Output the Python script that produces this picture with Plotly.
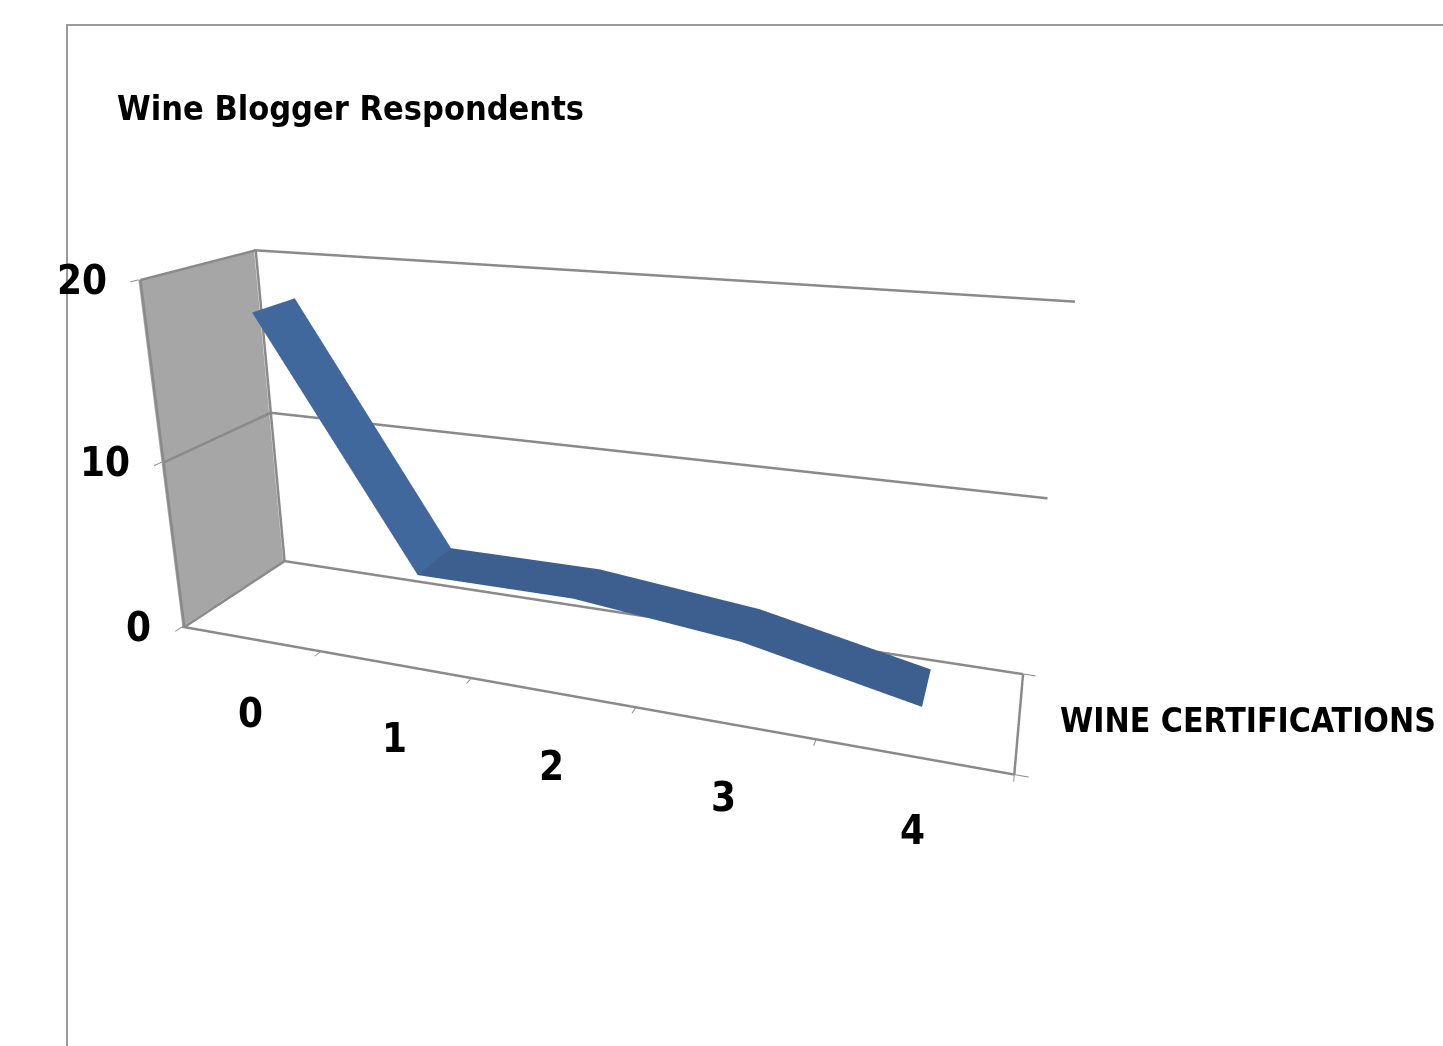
import math
import plotly.graph_objects as go

# ---- data -------------------------------------------------------------
certifications = [0, 1, 2, 3, 4]
category_labels = ["0", "1", "2", "3", "4"]
respondents = [18, 4, 4, 3, 1]
value_ticks = [0, 10, 20]
value_labels = ["0", "10", "20"]

title_text = "Wine Blogger Respondents"
x_title_text = "WINE CERTIFICATIONS"

# ---- axis extents -----------------------------------------------------
x_range = [-0.5, 4.5]
depth_range = [0.0, 1.0]
ribbon_depth = [0.3, 0.7]
z_range = [0, 20]
category_edges = [c - 0.5 for c in certifications] + [certifications[-1] + 0.5]

FONT = "Liberation Sans Narrow, DejaVu Sans Condensed, Liberation Sans, sans-serif"
GRID = "#8a8a8a"
RIBBON_LIGHT = "#41689c"
RIBBON_DARK = "#3c5f90"

# ---- ribbon mesh: a strip of constant depth following the series -------
xs, ys, zs = [], [], []
for c, v in zip(certifications, respondents):
    xs += [c, c]
    ys += [ribbon_depth[0], ribbon_depth[1]]
    zs += [v, v]

tri_i, tri_j, tri_k, face_colors = [], [], [], []
for s in range(len(certifications) - 1):
    a = 2 * s
    tri_i += [a, a + 1]
    tri_j += [a + 1, a + 3]
    tri_k += [a + 2, a + 2]
    col = RIBBON_LIGHT if respondents[s + 1] < respondents[s] - 5 else RIBBON_DARK
    face_colors += [col, col]

ribbon = go.Mesh3d(
    x=xs, y=ys, z=zs,
    i=tri_i, j=tri_j, k=tri_k,
    facecolor=face_colors,
    flatshading=True,
    lighting=dict(ambient=1.0, diffuse=0.0, specular=0.0, roughness=1.0, fresnel=0.0),
    hoverinfo="skip",
    showscale=False,
)

# ---- wall frame: gridlines on back and side walls plus the floor edges --
# lines lying on a wall are nudged just inside it so the panel does not hide them
x0, x1 = x_range
y0, y1 = depth_range
z0, z1 = z_range
wx = x0 + 0.003 * (x1 - x0)
wy = y1 - 0.003 * (y1 - y0)
fx, fy, fz = [], [], []


def seg(a, b):
    fx.extend([a[0], b[0], None])
    fy.extend([a[1], b[1], None])
    fz.extend([a[2], b[2], None])


for v in value_ticks:
    seg((x0, wy, v), (x1, wy, v))   # back wall
    seg((wx, y0, v), (wx, y1, v))   # side wall
seg((wx, wy, z0), (wx, wy, z1))     # wall corner
seg((wx, y0, z0), (wx, y0, z1))     # value axis
seg((x0, y0, z0), (x1, y0, z0))     # category axis
seg((x1, y0, z0), (x1, y1, z0))     # floor right edge

frame = go.Scatter3d(
    x=fx, y=fy, z=fz, mode="lines",
    line=dict(color=GRID, width=5),
    hoverinfo="skip", showlegend=False,
)

fig = go.Figure([frame, ribbon])

# camera: rotated toward +x and looking down onto the floor
az, el, dist = math.radians(20.0), math.radians(21.0), 3.21
cz = -0.117
eye = dict(
    x=dist * math.cos(el) * math.sin(az),
    y=-dist * math.cos(el) * math.cos(az),
    z=dist * math.sin(el) + cz,
)

axis_common = dict(
    showspikes=False, zeroline=False, title=dict(text=""),
    showline=False, showgrid=False, showticklabels=False,
)
tick_font = dict(family=FONT, size=40, color="black", weight="bold")

fig.update_layout(
    width=1443, height=1046,
    margin=dict(l=0, r=0, t=0, b=0),
    paper_bgcolor="white",
    showlegend=False,
    scene=dict(
        domain=dict(x=[0.003, 0.810], y=[0.0, 1.0]),
        aspectmode="manual",
        aspectratio=dict(x=2.18, y=0.5, z=0.95),
        camera=dict(eye=eye, center=dict(x=0, y=0, z=cz), up=dict(x=0, y=0, z=1),
                    projection=dict(type="perspective")),
        xaxis=dict(
            range=x_range, tickvals=category_edges,
            ticks="outside", ticklen=10, tickwidth=2, tickcolor=GRID,
            showbackground=True, backgroundcolor="#a6a6a6",
            **axis_common,
        ),
        yaxis=dict(
            range=depth_range, tickvals=depth_range,
            ticks="outside", ticklen=10, tickwidth=2, tickcolor=GRID,
            showbackground=True, backgroundcolor="white",
            **axis_common,
        ),
        zaxis=dict(
            range=z_range, tickvals=value_ticks,
            ticks="outside", ticklen=12, tickwidth=2, tickcolor=GRID,
            showbackground=False,
            **axis_common,
        ),
        annotations=[
            dict(x=c, y=y0, z=z0, text=lab, showarrow=False, yshift=-74, font=tick_font)
            for c, lab in zip(certifications, category_labels)
        ] + [
            dict(x=x0, y=y0, z=v, text=lab, showarrow=False, xanchor="right",
                 xshift=-30, font=tick_font)
            for v, lab in zip(value_ticks, value_labels)
        ],
    ),
    annotations=[
        dict(x=115 / 1443, y=1 - 108 / 1046, xref="paper", yref="paper",
             xanchor="left", yanchor="middle", showarrow=False, text=title_text,
             font=dict(family=FONT, size=34, color="black", weight="bold")),
        dict(x=1058 / 1443, y=1 - 720 / 1046, xref="paper", yref="paper",
             xanchor="left", yanchor="middle", showarrow=False, text=x_title_text,
             font=dict(family=FONT, size=33.5, color="black", weight="bold")),
    ],
    shapes=[
        dict(type="rect", xref="paper", yref="paper",
             x0=67 / 1443, x1=1.2, y0=-0.2, y1=1 - 25 / 1046,
             line=dict(color="#9a9a9a", width=2), fillcolor="rgba(0,0,0,0)", layer="above"),
    ],
)

fig.write_html("out.html", config={"displayModeBar": False})
